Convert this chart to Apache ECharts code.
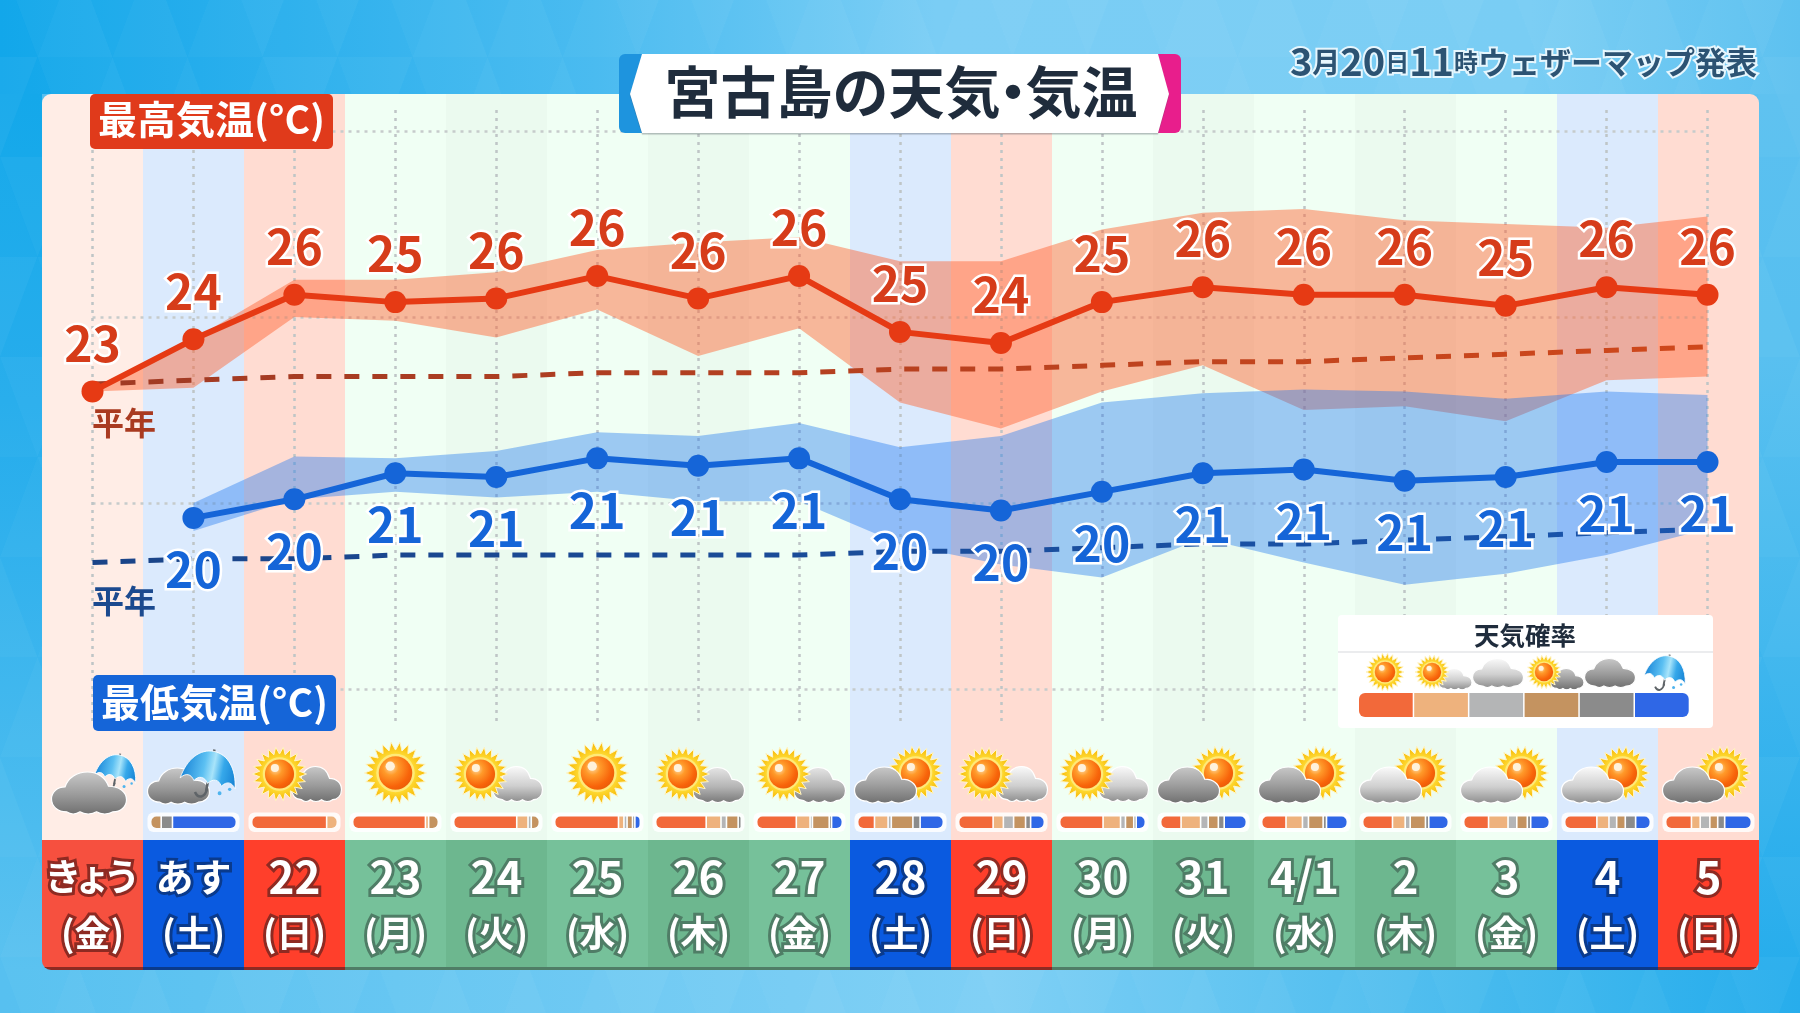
<!DOCTYPE html>
<html lang="ja">
<head>
<meta charset="utf-8">
<title>宮古島の天気・気温</title>
<style>
  html, body { margin: 0; padding: 0; background: #55bff0; }
  #chart { width: 1800px; height: 1013px; }
</style>
<script src="https://cdn.jsdelivr.net/npm/echarts@6/dist/echarts.min.js"></script>
</head>
<body>
<div id="chart"></div>
<script>
// ---- 予報データ ----
const dayLabels = ['きょう', 'あす', '22', '23', '24', '25', '26', '27', '28', '29', '30', '31', '4/1', '2', '3', '4', '5'];
const weekLabels = ['金', '土', '日', '月', '火', '水', '木', '金', '土', '日', '月', '火', '水', '木', '金', '土', '日'];
const dayKinds = ['today', 'sat', 'sun', 'wd', 'wdAlt', 'wd', 'wdAlt', 'wd', 'sat', 'sun', 'wd', 'wdAlt', 'wd', 'wdAlt', 'wd', 'sat', 'sun'];

const highTemp = [23.0, 24.4, 25.6, 25.4, 25.5, 26.1, 25.5, 26.1, 24.6, 24.3, 25.4, 25.8, 25.6, 25.6, 25.3, 25.8, 25.6];
const highUpper = [23.0, 24.4, 26.0, 26.0, 26.2, 26.8, 27.0, 27.15, 26.5, 26.5, 27.35, 27.8, 27.9, 27.6, 27.5, 27.4, 27.7];
const highLower = [23.0, 23.1, 25.0, 24.9, 24.45, 25.2, 23.95, 24.7, 22.7, 22.0, 23.0, 23.7, 22.5, 22.6, 22.2, 23.3, 23.4];
const highNormal = [23.2, 23.3, 23.4, 23.4, 23.4, 23.5, 23.5, 23.5, 23.6, 23.6, 23.7, 23.8, 23.8, 23.9, 24.0, 24.1, 24.2];

const lowTemp = [null, 19.6, 20.1, 20.8, 20.7, 21.2, 21.0, 21.2, 20.1, 19.8, 20.3, 20.8, 20.9, 20.6, 20.7, 21.1, 21.1];
const lowUpper = [null, 20.0, 21.25, 21.2, 21.4, 21.9, 21.8, 22.15, 21.5, 21.8, 22.7, 22.95, 23.05, 23.0, 22.8, 23.0, 22.9];
const lowLower = [null, 19.25, 20.1, 20.3, 20.15, 20.3, 20.05, 20.05, 18.9, 18.35, 18.0, 19.05, 18.4, 17.8, 18.1, 18.6, 19.3];
const lowNormal = [18.4, 18.5, 18.5, 18.6, 18.6, 18.6, 18.6, 18.6, 18.7, 18.7, 18.8, 18.9, 18.9, 19.0, 19.1, 19.2, 19.3];

const yTicks = { min: 15, max: 30, step: 5 };

// 天気アイコンの種類
const dayIcons = ['rainSmall', 'rainBig', 'sunDark', 'sun', 'sunLight', 'sun', 'sunMid', 'sunMid', 'darkSun', 'sunLight', 'sunLight', 'darkSun', 'darkSun', 'lightSun', 'lightSun', 'lightSun', 'darkSun'];

// 天気確率(%)
const probSunny =    [0, 0, 89, 88, 76, 81, 63, 50, 19, 38, 50, 22, 26, 33, 26, 35, 27];
const probSunCloud = [0, 0, 11, 2, 12, 5, 17, 16, 15, 10, 19, 21, 17, 13, 20, 12, 8];
const probCloudy =   [0, 0, 0, 0, 2, 2, 5, 1, 2, 10, 4, 7, 5, 4, 8, 7, 9];
const probCloudSun = [0, 11, 0, 10, 8, 5, 13, 20, 25, 12, 8, 10, 15, 16, 10, 8, 7];
const probDark =     [0, 12, 0, 0, 0, 1, 2, 1, 7, 4, 1, 5, 2, 2, 2, 10, 6];
const probRain =     [0, 77, 0, 0, 0, 5, 0, 12, 27, 14, 9, 24, 22, 21, 19, 15, 28];
const probColors = ['#f2693a', '#eeb27d', '#b4b5b6', '#c49360', '#8b8b8b', '#2f67e6'];
const legendTitle = '天気確率';
const legendIcons = ['sun', 'sunLight', 'cloudLight', 'sunDark', 'cloudDark', 'umbrella'];

const FONT = '"Noto Sans CJK JP", "Noto Sans", sans-serif';
const G = echarts.graphic;

// ---- 配色 ----
const bandColors = { today: '#ffede6', sat: '#dbeafd', sun: '#ffdcd2', wd: '#f0fff4', wdAlt: '#ebfaef' };
const headColors = { today: '#f6503f', sat: '#0a5ae0', sun: '#ff3f2b', wd: '#76c19a', wdAlt: '#6db78f' };
const headEdges = { today: '#8e2a22', sat: '#0a3a8c', sun: '#8e2a22', wd: '#4f7d66', wdAlt: '#4f7d66' };

// ---- アイコン部品 ----
const CLOUD = 'M20 58C8 58 0 50 0 40C0 30 8 23 18 23C22 10 34 2 48 2C62 2 72 10 76 22C90 22 100 30 100 41C100 51 92 58 82 58C76 62 66 62 60 58C54 62 44 62 38 58C32 62 26 62 20 58Z';
const CANOPY = 'M0 42C5 16 25 0 50 0C75 0 95 16 100 42C92 34 83 34 75 42C68 34 58 34 50 42C42 34 32 34 25 42C18 34 8 34 0 42Z';

function sunParts(cx, cy, R) {
  const pts = [];
  const spikes = 22;
  for (let k = 0; k < spikes * 2; k++) {
    const a = (k * Math.PI) / spikes;
    const r = k % 2 ? R * 0.74 : R;
    pts.push([cx + r * Math.cos(a), cy + r * Math.sin(a)]);
  }
  return [
    { type: 'polygon', shape: { points: pts }, style: {
      fill: new G.RadialGradient(0.5, 0.5, 0.5, [
        { offset: 0.55, color: '#ffdf3a' }, { offset: 1, color: '#f6b400' }
      ]), stroke: '#fff6c8', lineWidth: 1 } },
    { type: 'circle', shape: { cx, cy, r: R * 0.62 }, style: { fill: '#ffe978' } },
    { type: 'circle', shape: { cx, cy, r: R * 0.54 }, style: {
      fill: new G.RadialGradient(0.36, 0.34, 0.75, [
        { offset: 0, color: '#ffd9a0' }, { offset: 0.3, color: '#ff9a2a' },
        { offset: 0.75, color: '#f8640a' }, { offset: 1, color: '#e85a08' }
      ]) } },
    { type: 'circle', shape: { cx: cx - R * 0.17, cy: cy - R * 0.22, r: R * 0.15 }, style: { fill: '#fff2dc' } }
  ];
}

function cloudPart(cx, cy, w, h, tone) {
  const stops = {
    dark: ['#c9c9c9', '#9a9a9a', '#6f6f6f'],
    mid: ['#e6e6e6', '#b5b5b5', '#777777'],
    light: ['#fbfbfb', '#cfcfcf', '#8d8d8d']
  }[tone];
  return {
    type: 'path',
    shape: { pathData: CLOUD, layout: 'cover', x: cx - w / 2, y: cy - h / 2, width: w, height: h },
    style: {
      fill: new G.LinearGradient(0, 0, 0, 1, [
        { offset: 0, color: stops[0] }, { offset: 0.55, color: stops[1] }, { offset: 1, color: stops[2] }
      ]),
      stroke: '#ffffff', lineWidth: 1.2
    }
  };
}

function umbrellaParts(cx, cy, w, h) {
  const x0 = cx - w / 2, y0 = cy - h / 2;
  return [{
    type: 'group',
    x: cx, y: cy, rotation: -0.2,
    children: [
      { type: 'line', shape: { x1: 0, y1: -h * 0.52, x2: 0, y2: h * 0.36 }, style: { stroke: '#5f6468', lineWidth: Math.max(1.6, w * 0.045) } },
      { type: 'path', shape: { pathData: 'M0 0C0 8 -5 10 -8 5', layout: 'cover', x: -w * 0.19, y: h * 0.3, width: w * 0.2, height: h * 0.2 },
        style: { fill: null, stroke: '#5f6468', lineWidth: Math.max(1.6, w * 0.045) } },
      { type: 'path', shape: { pathData: CANOPY, layout: 'cover', x: -w / 2, y: -h * 0.48, width: w, height: h * 0.68 },
        style: {
          fill: new G.LinearGradient(0, 0, 1, 0, [
            { offset: 0, color: '#1a86d8' }, { offset: 0.38, color: '#5cc0f2' },
            { offset: 0.55, color: '#a8e4fa' }, { offset: 0.72, color: '#36a8ea' }, { offset: 1, color: '#137fd2' }
          ]),
          stroke: '#ffffff', lineWidth: 0.8
        } }
    ]
  }, {
    type: 'circle', shape: { cx: x0 + w * 0.68, cy: y0 + h * 0.9, r: Math.max(1.5, w * 0.035) }, style: { fill: '#4fb4ee' }
  }, {
    type: 'circle', shape: { cx: x0 + w * 0.86, cy: y0 + h * 0.82, r: Math.max(1.2, w * 0.03) }, style: { fill: '#4fb4ee' }
  }];
}

// x はアイコンを置く列の中心
function dayIconParts(kind, x) {
  const y = 773;
  switch (kind) {
    case 'sun': return sunParts(x, y, 31);
    case 'sunLight': return [cloudPart(x + 21, y + 11, 50, 35, 'light')].concat(sunParts(x - 16, y + 1, 27));
    case 'sunMid': return [cloudPart(x + 20, y + 12, 52, 35, 'mid')].concat(sunParts(x - 16, y + 1, 27));
    case 'sunDark': return [cloudPart(x + 22, y + 11, 50, 35, 'dark')].concat(sunParts(x - 15, y + 1, 27));
    case 'darkSun': return sunParts(x + 15, y, 27).concat([cloudPart(x - 15, y + 12, 62, 36, 'dark')]);
    case 'lightSun': return sunParts(x + 15, y, 27).concat([cloudPart(x - 15, y + 12, 62, 36, 'light')]);
    case 'rainSmall': return umbrellaParts(x + 24, y - 1, 42, 36).concat([cloudPart(x - 3.5, y + 20, 75, 42, 'dark')]);
    case 'rainBig': return [cloudPart(x - 15, y + 13, 62, 36, 'dark')].concat(umbrellaParts(x + 16, y + 1, 56, 48));
  }
  return [];
}

function legendIconParts(kind, x) {
  const y = 673;
  switch (kind) {
    case 'sun': return sunParts(x, y - 1, 19);
    case 'sunLight': return [cloudPart(x + 20, y + 6, 34, 21, 'light')].concat(sunParts(x - 3, y - 1, 17));
    case 'cloudLight': return [cloudPart(x, y, 51, 29, 'light')];
    case 'sunDark': return [cloudPart(x + 20, y + 6, 34, 21, 'dark')].concat(sunParts(x - 3, y - 1, 17));
    case 'cloudDark': return [cloudPart(x, y, 51, 29, 'dark')];
    case 'umbrella': return umbrellaParts(x, y, 42, 36);
  }
  return [];
}

// ---- 背景(三角形の地模様つきグラデーション) ----
function backgroundElements() {
  const els = [];
  const strip = (x, y, width, height, grad) => els.push({ type: 'rect', z: -30, shape: { x, y, width, height }, style: { fill: grad } });
  strip(0, 0, 1800, 94, new G.LinearGradient(0, 0, 1, 0, [
    { offset: 0, color: '#10a6ea' }, { offset: 0.33, color: '#48bbf0' }, { offset: 0.52, color: '#79cdf5' },
    { offset: 0.85, color: '#78cdf4' }, { offset: 1, color: '#5ac0f0' }]));
  strip(0, 94, 42, 876, new G.LinearGradient(0, 0, 0, 1, [
    { offset: 0, color: '#12a7ea' }, { offset: 0.35, color: '#22acec' }, { offset: 1, color: '#55c0f0' }]));
  strip(1758, 94, 42, 876, new G.LinearGradient(0, 0, 0, 1, [
    { offset: 0, color: '#5ac0f0' }, { offset: 0.3, color: '#55bff0' }, { offset: 1, color: '#22acec' }]));
  strip(0, 970, 1800, 43, new G.LinearGradient(0, 0, 1, 0, [
    { offset: 0, color: '#55c0f0' }, { offset: 0.55, color: '#7dcff5' }, { offset: 0.82, color: '#45baee' }, { offset: 1, color: '#22acec' }]));
  const tw = 75, th = 100;
  for (let row = -1; row < 11; row++) {
    const y0 = row * th + 57;
    for (let col = -1; col < 50; col++) {
      const x0 = col * (tw / 2);
      const up = (row + col) % 2 === 0;
      const inside = x0 > 42 && x0 + tw < 1758 && y0 > 94 && y0 + th < 970;
      if (inside) continue;
      const shade = ((col * 7 + row * 3) % 5 + 5) % 5;
      const pts = up ? [[x0, y0 + th], [x0 + tw / 2, y0], [x0 + tw, y0 + th]] : [[x0, y0], [x0 + tw, y0], [x0 + tw / 2, y0 + th]];
      els.push({ type: 'polygon', z: -29, shape: { points: pts }, style: { fill: 'rgba(255,255,255,' + (0.012 + shade * 0.012) + ')' } });
    }
  }
  return els;
}

function titleElements() {
  const head = { fontFamily: FONT, fontWeight: 700, fontSize: 56, fill: '#1f2c3c' };
  const stamp = size => ({ fontFamily: FONT, fontWeight: 700, fontSize: size, fill: '#2c5373', stroke: '#e6f6fd', lineWidth: 4 });
  return [
    { type: 'rect', z: 60, shape: { x: 619, y: 54, width: 60, height: 79, r: 6 }, style: { fill: '#1e94de' } },
    { type: 'rect', z: 60, shape: { x: 1121, y: 54, width: 60, height: 79, r: 6 }, style: { fill: '#e81e8c' } },
    { type: 'polygon', z: 61, shape: { points: [[642, 54], [1158, 54], [1169, 94], [1158, 133], [642, 133], [630, 94]] },
      style: { fill: '#ffffff', shadowColor: 'rgba(60,70,80,0.35)', shadowBlur: 1, shadowOffsetY: 1.5 } },
    { type: 'text', z: 62, x: 901, y: 92, style: {
      text: '{t|宮古島の天気}{p|・}{t|気温}', align: 'center', verticalAlign: 'middle',
      rich: { t: head, p: Object.assign({ width: 25, align: 'center' }, head) } } },
    { type: 'text', z: 62, x: 1757, y: 62, style: {
      text: '{d|3}{m|月}{d|20}{s|日}{d|11}{s|時}{k|ウェザーマップ発表}', align: 'right', verticalAlign: 'middle',
      rich: { d: stamp(38), m: stamp(28), s: stamp(24), k: stamp(31) } } }
  ];
}

function tagElements() {
  const tag = (x, y, w, h, color, text, shift) => [
    { type: 'rect', z: 40, shape: { x, y, width: w, height: h, r: 5 }, style: { fill: color } },
    { type: 'text', z: 41, x: x + w / 2, y: y + h / 2 + shift, style: {
      text, align: 'center', verticalAlign: 'middle', fill: '#ffffff', fontFamily: FONT, fontWeight: 700, fontSize: 39 } }
  ];
  const note = (y, color) => ({ type: 'text', z: 41, x: 92, y, style: {
    text: '平年', align: 'left', verticalAlign: 'middle', fill: color, fontFamily: FONT, fontWeight: 700, fontSize: 32 } });
  return tag(90, 94, 243, 55, '#e03a1b', '最高気温(°C)', -2)
    .concat(tag(93, 675, 243, 56, '#1565d8', '最低気温(°C)', -1))
    .concat([note(423, '#a93a20'), note(601, '#1b4a8f')]);
}

function legendElements() {
  const els = [
    { type: 'rect', z: 50, shape: { x: 1338, y: 615, width: 375, height: 113, r: 4 }, style: { fill: '#ffffff' } },
    { type: 'line', z: 51, shape: { x1: 1338, y1: 652, x2: 1713, y2: 652 }, style: { stroke: '#e4e6e8', lineWidth: 1.5 } },
    { type: 'text', z: 51, x: 1525, y: 635, style: {
      text: legendTitle, align: 'center', verticalAlign: 'middle', fill: '#1f2c3c', fontFamily: FONT, fontWeight: 700, fontSize: 25.5 } }
  ];
  const x0 = 1359, w = 55.2;
  probColors.forEach((c, i) => {
    const r = i === 0 ? [6, 0, 0, 6] : i === probColors.length - 1 ? [0, 6, 6, 0] : 0;
    els.push({ type: 'rect', z: 51, shape: { x: x0 + i * w, y: 693, width: w - 1.5, height: 24, r }, style: { fill: c } });
  });
  return els;
}

// ---- 日ごとの天気アイコンと確率バー ----
function renderDayIcon(params, api) {
  const x = api.coord([api.value(0), 0])[0];
  return { type: 'group', children: dayIconParts(dayIcons[api.value(0)], x) };
}

function renderLegendIcon(params, api) {
  const iconX = [1385, 1435, 1498, 1547, 1610, 1666];
  const i = api.value(0);
  return { type: 'group', children: legendIconParts(legendIcons[i], iconX[i]) };
}

function renderProbBar(params, api) {
  const vals = [1, 2, 3, 4, 5, 6].map(d => api.value(d));
  const total = vals.reduce((a, b) => a + b, 0);
  if (!total) return null;
  const cx = api.coord([api.value(0), 0])[0];
  const colW = api.size([1, 0])[0];
  const W = colW * 0.832, H = 11.5, top = 816.5;
  const shown = vals.filter(v => v > 0).length;
  const usable = W - (shown - 1) * 1.6;
  const children = [{ type: 'rect', shape: { x: cx - W / 2 - 4, y: top - 4, width: W + 8, height: H + 8, r: 6 }, style: { fill: 'rgba(255,255,255,0.85)' } }];
  let x = cx - W / 2, seen = 0;
  vals.forEach((v, k) => {
    if (v <= 0) return;
    const w = (v / total) * usable;
    seen++;
    const r = [seen === 1 ? 5 : 0, seen === shown ? 5 : 0, seen === shown ? 5 : 0, seen === 1 ? 5 : 0];
    children.push({ type: 'rect', shape: { x, y: top, width: w, height: H, r }, style: { fill: probColors[k] } });
    x += w + 1.6;
  });
  return { type: 'group', children };
}

// ---- 系列 ----
const temperatureLabel = (color, position, distance) => ({
  show: true, position, distance,
  formatter: p => Math.round(p.value),
  color, fontFamily: FONT, fontWeight: 700, fontSize: 48,
  textBorderColor: '#ffffff', textBorderWidth: 5
});

const bandPair = (name, lower, upper, fill) => [
  { name: name + '下限', type: 'line', stack: name, data: lower, symbol: 'none', lineStyle: { width: 0 }, z: 3, silent: true },
  { name: name + '幅', type: 'line', stack: name, data: upper.map((v, i) => (v == null ? null : +(v - lower[i]).toFixed(2))),
    symbol: 'none', lineStyle: { width: 0 }, areaStyle: { color: fill, opacity: 1 }, z: 3, silent: true }
];

const dashed = (name, data, colors) => ({
  name, type: 'line', data, symbol: 'none', z: 4, silent: true,
  lineStyle: { width: 5, type: [15, 13], color: new G.LinearGradient(0, 0, 1, 0, [
    { offset: 0, color: colors[0] }, { offset: 1, color: colors[1] }]) }
});

const mainLine = (name, data, color, label) => ({
  name, type: 'line', data, symbol: 'circle', symbolSize: 22, z: 6, silent: true,
  lineStyle: { width: 6, color }, itemStyle: { color }, label, labelLayout: { hideOverlap: false }
});

// 「きょう」は小書きの文字を詰めて組む
function dayText(i) {
  const label = dayLabels[i];
  if (i === 0) return label.split('').map((c, k) => '{k' + k + '|' + c + '}').join('');
  return '{' + (i === 1 ? 'x1' : 'a') + '|' + label + '}';
}

function dayRich(i, base) {
  const rich = { w: Object.assign({ fontSize: 36, lineHeight: 56 }, base) };
  if (i === 0) {
    [33, 26, 33].forEach((width, k) => {
      rich['k' + k] = Object.assign({ fontSize: 37, lineHeight: 56, width, align: 'center' }, base);
    });
  } else if (i === 1) {
    rich.x1 = Object.assign({ fontSize: 38, lineHeight: 56 }, base);
  } else {
    rich.a = Object.assign({ fontSize: 44, lineHeight: 56 }, base);
  }
  return rich;
}

const option = {
  animation: false,
  backgroundColor: 'transparent',
  textStyle: { fontFamily: FONT },
  grid: [
    { left: 92.5, width: 1615, top: 131, height: 558 },
    { left: 92.5, width: 1615, top: 110, height: 612 },
    { left: 42, width: 1717, top: 94, height: 746 },
    { left: 42, width: 1717, top: 840, height: 130 }
  ],
  xAxis: [
    { gridIndex: 0, type: 'category', data: dayLabels, boundaryGap: false, z: 1,
      axisLine: { show: false }, axisTick: { show: false }, axisLabel: { show: false }, splitLine: { show: false } },
    { gridIndex: 1, type: 'category', data: dayLabels, boundaryGap: false, z: 1,
      axisLine: { show: false }, axisTick: { show: false }, axisLabel: { show: false },
      splitLine: { show: true, interval: 0, lineStyle: { color: '#bfc5c6', width: 2.5, type: [3, 5] } } },
    { gridIndex: 2, type: 'category', data: dayLabels, z: 0,
      axisLine: { show: false }, axisTick: { show: false }, axisLabel: { show: false }, splitLine: { show: false } },
    { gridIndex: 3, type: 'category', data: dayLabels, z: 0,
      axisLine: { show: false }, axisTick: { show: false }, axisLabel: { show: false }, splitLine: { show: false } }
  ],
  yAxis: [
    { gridIndex: 0, type: 'value', min: yTicks.min, max: yTicks.max, interval: yTicks.step, z: 1,
      axisLine: { show: false }, axisTick: { show: false }, axisLabel: { show: false },
      splitLine: { show: true, lineStyle: { color: '#c6cbcb', width: 2.5, type: [3, 5] } } },
    { gridIndex: 1, type: 'value', show: false, min: 0, max: 1, splitLine: { show: false } },
    { gridIndex: 2, type: 'value', show: false, min: 0, max: 1, splitLine: { show: false } },
    { gridIndex: 3, type: 'value', show: false, min: 0, max: 1, splitLine: { show: false } }
  ],
  series: [
    // 曜日ごとの背景帯
    { name: '背景帯', type: 'bar', xAxisIndex: 2, yAxisIndex: 2, barWidth: '100%', silent: true, z: 0,
      data: dayKinds.map((k, i) => ({
        value: 1,
        itemStyle: { color: bandColors[k], borderRadius: i === 0 ? [9, 0, 0, 0] : i === dayKinds.length - 1 ? [0, 9, 0, 0] : 0 }
      })) },
    // 日付と曜日のセル
    { name: '日付', type: 'bar', xAxisIndex: 3, yAxisIndex: 3, barWidth: '100%', silent: true, z: 2,
      data: dayKinds.map((k, i) => {
        const edge = headEdges[k];
        const text = { color: '#ffffff', fontFamily: FONT, fontWeight: 700, textBorderColor: edge, textBorderWidth: 6 };
        return {
          value: 1,
          itemStyle: {
            color: new G.LinearGradient(0, 0, 0, 1, [
              { offset: 0, color: headColors[k] }, { offset: 0.975, color: headColors[k] },
              { offset: 0.98, color: edge }, { offset: 1, color: edge }]),
            borderRadius: i === 0 ? [0, 0, 0, 9] : i === dayKinds.length - 1 ? [0, 0, 9, 0] : 0
          },
          label: {
            show: true, position: 'inside', offset: [0, 0],
            formatter: dayText(i) + '\n{w|(' + weekLabels[i] + ')}',
            rich: dayRich(i, text)
          }
        };
      }) },
    ...bandPair('最高気温予報幅', highLower, highUpper, 'rgba(255,98,48,0.46)'),
    ...bandPair('最低気温予報幅', lowLower, lowUpper, 'rgba(30,120,240,0.40)'),
    dashed('最高気温平年', highNormal, ['#a03a24', '#cf481b']),
    dashed('最低気温平年', lowNormal, ['#1a4488', '#1a55ad']),
    mainLine('最低気温', lowTemp, '#1565d8', temperatureLabel('#1565d8', 'bottom', 17)),
    mainLine('最高気温', highTemp, '#e63a14', temperatureLabel('#d63c1a', 'top', 13)),
    { name: '天気', type: 'custom', xAxisIndex: 2, yAxisIndex: 2, silent: true, z: 8, clip: false,
      renderItem: renderDayIcon, data: dayIcons.map((k, i) => [i]) },
    { name: '天気確率', type: 'custom', xAxisIndex: 2, yAxisIndex: 2, silent: true, z: 8, clip: false,
      renderItem: renderProbBar,
      data: dayIcons.map((k, i) => [i, probSunny[i], probSunCloud[i], probCloudy[i], probCloudSun[i], probDark[i], probRain[i]]) },
    { name: '凡例アイコン', type: 'custom', coordinateSystem: 'none', silent: true, z: 55, clip: false,
      renderItem: renderLegendIcon, data: legendIcons.map((k, i) => [i]) }
  ],
  graphic: { elements: backgroundElements().concat(tagElements(), legendElements(), titleElements()) }
};

const chart = echarts.init(document.getElementById('chart'), null, { renderer: 'canvas' });
chart.setOption(option);
</script>
</body>
</html>
